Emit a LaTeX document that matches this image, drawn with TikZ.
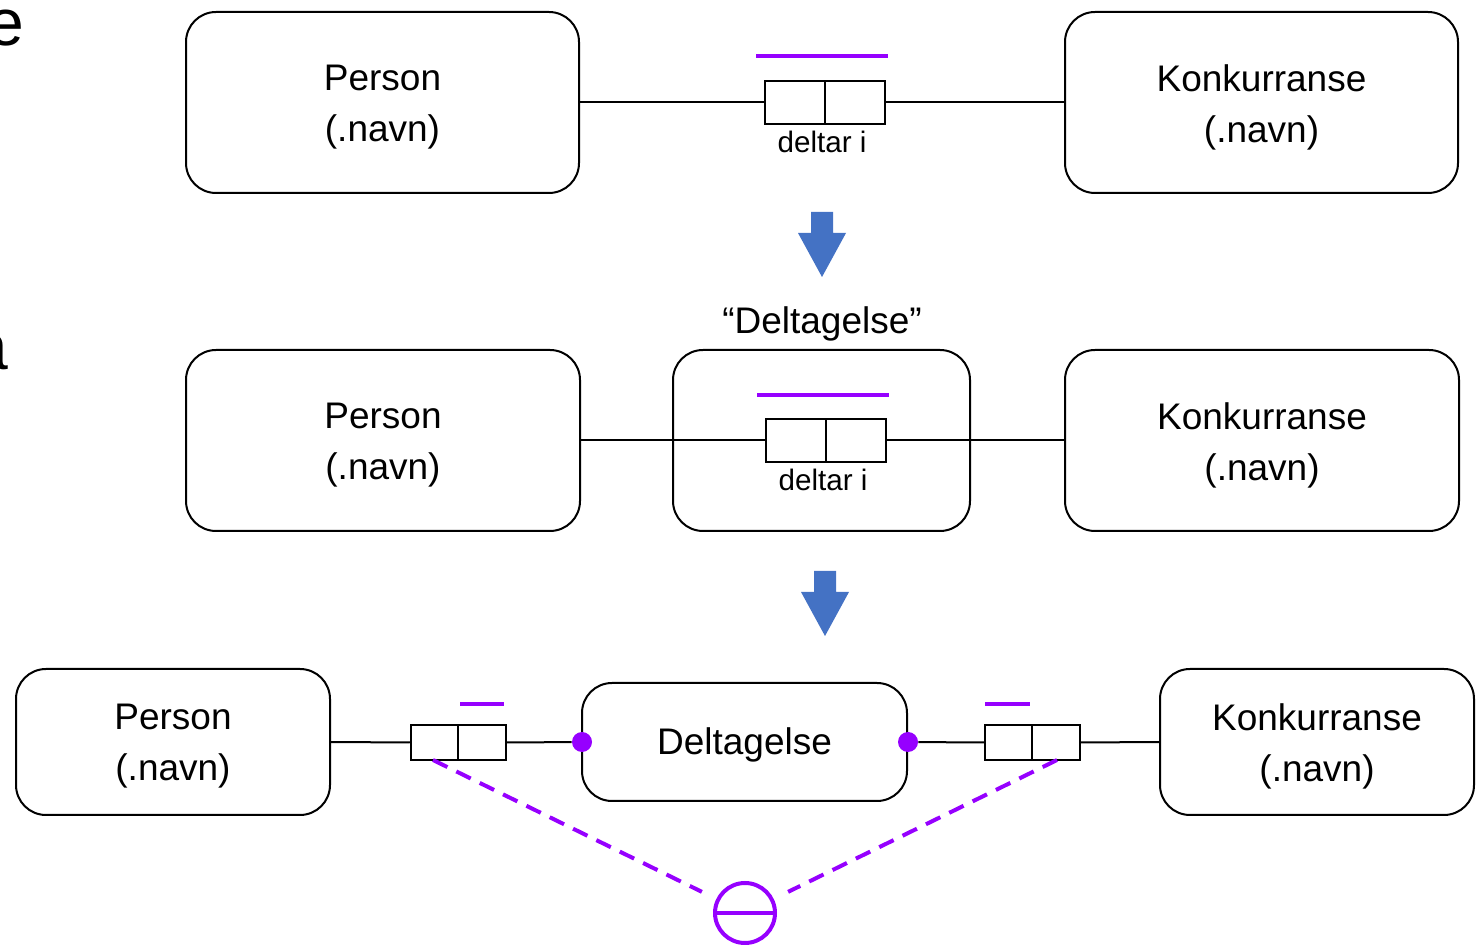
\documentclass[tikz,border=0pt]{standalone}
\usepackage{fontspec}
\setmainfont{Liberation Sans}
\begin{document}
\begin{tikzpicture}[x=0.5pt,y=-0.5pt,
  ent/.style={draw,line width=1pt,rounded corners=15pt,inner sep=0pt},
  etxt/.style={align=center,inner sep=0pt,font=\fontsize{18.5}{25.5}\selectfont},
  role/.style={draw,line width=1pt,inner sep=0pt,minimum width=30pt,minimum height=21.5pt},
  roles/.style={draw,line width=1pt,inner sep=0pt,minimum width=23.75pt,minimum height=17.5pt},
  conn/.style={line width=1pt},
  uniq/.style={draw=violet1,line width=2pt},
  dot/.style={circle,fill=violet1,inner sep=0pt,minimum size=10pt},
  lbl/.style={font=\fontsize{14.8}{17}\selectfont,inner sep=0pt},
  bigarrow/.style={fill=blue1},
  dsh/.style={draw=violet1,line width=2pt,dash pattern=on 8pt off 5pt}]
\definecolor{violet1}{RGB}{150,0,255}
\definecolor{blue1}{RGB}{68,114,196}
\useasboundingbox (0,0) rectangle (1478,945);

% partial slide text at left edge
\node[anchor=base west,inner sep=0pt,font=\fontsize{33}{40}\selectfont] (pe) at (-13,46) {e};
\node[anchor=base west,inner sep=0pt,font=\fontsize{33}{40}\selectfont] (pa) at (-29,370) {å};

% ---------- row 1
\node[ent,minimum width=196.5pt,minimum height=90.5pt] (p1) at (382.5,102.5) {};
\node[etxt] (p1t) at (382.5,107) {Person\\(.navn)};
\node[ent,minimum width=196.5pt,minimum height=90.5pt] (k1) at (1261.5,102.5) {};
\node[etxt] (k1t) at (1261.5,107) {Konkurranse\\(.navn)};
\node[role] (r1a) at (795,102.5) {};
\node[role] (r1b) at (854.5,102.5) {};
\node[lbl,anchor=north] (t1) at (822,131) {deltar i};
\coordinate (u1a) at (756,56);
\coordinate (u1b) at (888,56);
\draw[uniq] (u1a) -- (u1b);
\draw[conn] (p1.east) -- (r1a.west);
\draw[conn] (r1b.east) -- (k1.west);

% arrow 1
\fill[bigarrow] (811,212) -- (833,212) -- (833,233) -- (846,233) -- (822,277) -- (798,233) -- (811,233) -- cycle;

% ---------- row 2
\node[ent,minimum width=197pt,minimum height=90.5pt] (p2) at (383,440.5) {};
\node[etxt] (p2t) at (383,445) {Person\\(.navn)};
\node[ent,minimum width=148.5pt,minimum height=90.5pt] (d2) at (821.5,440.5) {};
\node[ent,minimum width=197pt,minimum height=90.5pt] (k2) at (1262,440.5) {};
\node[etxt] (k2t) at (1262,445) {Konkurranse\\(.navn)};
\node[font=\fontsize{18.5}{22}\selectfont,inner sep=0pt] (t2q) at (822,323.5) {“Deltagelse”};
\node[role] (r2a) at (796,440.5) {};
\node[role] (r2b) at (855.5,440.5) {};
\node[lbl,anchor=north] (t2) at (823,469) {deltar i};
\coordinate (u2a) at (757,395);
\coordinate (u2b) at (889,395);
\draw[uniq] (u2a) -- (u2b);
\draw[conn] (p2.east) -- (r2a.west);
\draw[conn] (r2b.east) -- (k2.west);

% arrow 2
\fill[bigarrow] (814,571) -- (836,571) -- (836,592) -- (849,592) -- (825,636) -- (801,592) -- (814,592) -- cycle;

% ---------- row 3
\node[ent,minimum width=157pt,minimum height=73pt] (p3) at (173,742) {};
\node[etxt] (p3t) at (173,746.5) {Person\\(.navn)};
\node[ent,minimum width=162.5pt,minimum height=59pt] (d3) at (744.5,742) {};
\node[etxt] (d3t) at (744.5,745) {Deltagelse};
\node[ent,minimum width=157pt,minimum height=73pt] (k3) at (1317,742) {};
\node[etxt] (k3t) at (1317,746.5) {Konkurranse\\(.navn)};
\node[roles] (r3a) at (434.5,742.5) {};
\node[roles] (r3b) at (482,742.5) {};
\node[roles] (r4a) at (1008.5,742.5) {};
\node[roles] (r4b) at (1056,742.5) {};
\node[dot] (dl) at (582,742) {};
\node[dot] (dr) at (908,742) {};
\draw[uniq] (460,704) -- (504,704);
\draw[uniq] (985,704) -- (1030,704);
\draw[conn] (p3.east) -- (r3a.west);
\draw[conn] (r3b.east) -- (dl);
\draw[conn] (dr) -- (r4a.west);
\draw[conn] (r4b.east) -- (k3.west);

% external uniqueness constraint
\node[circle,draw=violet1,line width=2pt,minimum size=30pt,inner sep=0pt] (xc) at (745,913) {};
\draw[violet1,line width=2pt] (xc.west) -- (xc.east);
\coordinate (sl) at (433,760);
\coordinate (sr) at (1057,760);
\draw[dsh,shorten >=8pt] (sl) -- (xc);
\draw[dsh,shorten >=8pt] (sr) -- (xc);
\end{tikzpicture}
\end{document}
